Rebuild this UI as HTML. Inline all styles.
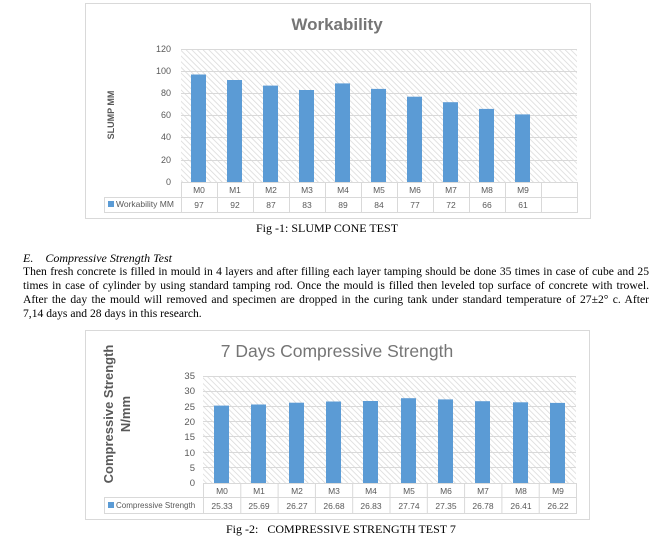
<!DOCTYPE html>
<html><head><meta charset="utf-8"><style>
body{margin:0;width:653px;height:546px;background:#fff;position:relative;overflow:hidden;font-family:"Liberation Serif",serif;}
.t{position:absolute;font-size:12px;color:#000;white-space:nowrap;}
.p{position:absolute;left:23px;width:626px;font-size:11.6px;line-height:14px;text-align:justify;text-align-last:justify;white-space:nowrap;word-spacing:-0.3px;}
svg{position:absolute;left:0;top:0;}
</style></head><body>
<svg width="653" height="546" font-family="Liberation Sans, sans-serif">
<defs>
<pattern id="h" width="4" height="4" patternUnits="userSpaceOnUse" patternTransform="rotate(-45)">
<rect width="4" height="4" fill="#fff"/><line x1="0" y1="0" x2="0" y2="4" stroke="#d6d6d6" stroke-width="1.4"/>
</pattern>
</defs>
<!-- Chart 1 -->
<rect x="85.5" y="3.5" width="505" height="215" fill="#fff" stroke="#d9d9d9"/>
<text x="337" y="30" text-anchor="middle" font-size="17" font-weight="bold" fill="#757575">Workability</text>
<rect x="181" y="49" width="396" height="133" fill="url(#h)"/>
<g stroke="#d9d9d9" stroke-width="1">
<line x1="181" x2="577" y1="49.5" y2="49.5"/><line x1="181" x2="577" y1="71.5" y2="71.5"/><line x1="181" x2="577" y1="93.5" y2="93.5"/><line x1="181" x2="577" y1="115.5" y2="115.5"/><line x1="181" x2="577" y1="137.5" y2="137.5"/><line x1="181" x2="577" y1="160.5" y2="160.5"/>
</g>
<g font-size="9" fill="#595959" text-anchor="end">
<text x="171" y="52">120</text><text x="171" y="74">100</text><text x="171" y="96">80</text><text x="171" y="118">60</text><text x="171" y="140">40</text><text x="171" y="163">20</text><text x="171" y="185">0</text>
</g>
<text transform="translate(114,115) rotate(-90)" text-anchor="middle" font-size="9" font-weight="bold" fill="#595959">SLUMP MM</text>
<g fill="#5b9bd5">
<rect x="191" y="74.5" width="15" height="107.5"/><rect x="227" y="80" width="15" height="102"/><rect x="263" y="85.6" width="15" height="96.4"/><rect x="299" y="90" width="15" height="92"/><rect x="335" y="83.4" width="15" height="98.6"/><rect x="371" y="88.9" width="15" height="93.1"/><rect x="407" y="96.7" width="15" height="85.3"/><rect x="443" y="102.2" width="15" height="79.8"/><rect x="479" y="108.9" width="15" height="73.1"/><rect x="515" y="114.4" width="15" height="67.6"/>
</g>
<g stroke="#d9d9d9" fill="none">
<rect x="181.5" y="182.5" width="396" height="30"/><rect x="104.5" y="197.5" width="77" height="15"/><line x1="181" x2="577" y1="197.5" y2="197.5"/>
<line x1="217.5" x2="217.5" y1="182" y2="212"/><line x1="253.5" x2="253.5" y1="182" y2="212"/><line x1="289.5" x2="289.5" y1="182" y2="212"/><line x1="325.5" x2="325.5" y1="182" y2="212"/><line x1="361.5" x2="361.5" y1="182" y2="212"/><line x1="397.5" x2="397.5" y1="182" y2="212"/><line x1="433.5" x2="433.5" y1="182" y2="212"/><line x1="469.5" x2="469.5" y1="182" y2="212"/><line x1="505.5" x2="505.5" y1="182" y2="212"/><line x1="541.5" x2="541.5" y1="182" y2="212"/>
</g>
<g font-size="8.5" fill="#595959" text-anchor="middle">
<text x="199" y="193">M0</text><text x="235" y="193">M1</text><text x="271" y="193">M2</text><text x="307" y="193">M3</text><text x="343" y="193">M4</text><text x="379" y="193">M5</text><text x="415" y="193">M6</text><text x="451" y="193">M7</text><text x="487" y="193">M8</text><text x="523" y="193">M9</text>
<text x="199" y="208">97</text><text x="235" y="208">92</text><text x="271" y="208">87</text><text x="307" y="208">83</text><text x="343" y="208">89</text><text x="379" y="208">84</text><text x="415" y="208">77</text><text x="451" y="208">72</text><text x="487" y="208">66</text><text x="523" y="208">61</text>
</g>
<rect x="108" y="201" width="6" height="6" fill="#5b9bd5"/>
<text x="116" y="207" font-size="8.5" fill="#595959">Workability MM</text>

<!-- Chart 2 -->
<rect x="85.5" y="330.5" width="504" height="189" fill="#fff" stroke="#d9d9d9"/>
<text x="337" y="357" text-anchor="middle" font-size="17.5" fill="#757575">7 Days Compressive Strength</text>
<rect x="203" y="376" width="373" height="107" fill="url(#h)"/>
<g stroke="#d9d9d9">
<line x1="203" x2="576" y1="376.5" y2="376.5"/><line x1="203" x2="576" y1="391.5" y2="391.5"/><line x1="203" x2="576" y1="406.5" y2="406.5"/><line x1="203" x2="576" y1="421.5" y2="421.5"/><line x1="203" x2="576" y1="436.5" y2="436.5"/><line x1="203" x2="576" y1="452.5" y2="452.5"/><line x1="203" x2="576" y1="467.5" y2="467.5"/>
</g>
<g font-size="9.5" fill="#595959" text-anchor="end">
<text x="195" y="379">35</text><text x="195" y="394">30</text><text x="195" y="410">25</text><text x="195" y="425">20</text><text x="195" y="440">15</text><text x="195" y="456">10</text><text x="195" y="471">5</text><text x="195" y="486">0</text>
</g>
<text transform="translate(113,414) rotate(-90)" text-anchor="middle" font-size="13" font-weight="bold" fill="#595959">Compressive Strength</text>
<text transform="translate(130,414) rotate(-90)" text-anchor="middle" font-size="13" font-weight="bold" fill="#595959">N/mm</text>
<g fill="#5b9bd5">
<rect x="214" y="405.6" width="15" height="77.4"/><rect x="251" y="404.5" width="15" height="78.5"/><rect x="289" y="402.7" width="15" height="80.3"/><rect x="326" y="401.5" width="15" height="81.5"/><rect x="363" y="401" width="15" height="82"/><rect x="401" y="398.2" width="15" height="84.8"/><rect x="438" y="399.4" width="15" height="83.6"/><rect x="475" y="401.2" width="15" height="81.8"/><rect x="513" y="402.3" width="15" height="80.7"/><rect x="550" y="402.9" width="15" height="80.1"/>
</g>
<g stroke="#d9d9d9" fill="none">
<rect x="203.5" y="483.5" width="373" height="30"/><rect x="104.5" y="497.5" width="99" height="16"/><line x1="203" x2="576" y1="497.5" y2="497.5"/>
<line x1="240.8" x2="240.8" y1="483" y2="513"/><line x1="278.1" x2="278.1" y1="483" y2="513"/><line x1="315.4" x2="315.4" y1="483" y2="513"/><line x1="352.7" x2="352.7" y1="483" y2="513"/><line x1="390" x2="390" y1="483" y2="513"/><line x1="427.3" x2="427.3" y1="483" y2="513"/><line x1="464.6" x2="464.6" y1="483" y2="513"/><line x1="501.9" x2="501.9" y1="483" y2="513"/><line x1="539.2" x2="539.2" y1="483" y2="513"/>
</g>
<g font-size="8.5" fill="#595959" text-anchor="middle">
<text x="222" y="494">M0</text><text x="259" y="494">M1</text><text x="297" y="494">M2</text><text x="334" y="494">M3</text><text x="371" y="494">M4</text><text x="409" y="494">M5</text><text x="446" y="494">M6</text><text x="483" y="494">M7</text><text x="521" y="494">M8</text><text x="558" y="494">M9</text>
<text x="222" y="509">25.33</text><text x="259" y="509">25.69</text><text x="297" y="509">26.27</text><text x="334" y="509">26.68</text><text x="371" y="509">26.83</text><text x="409" y="509">27.74</text><text x="446" y="509">27.35</text><text x="483" y="509">26.78</text><text x="521" y="509">26.41</text><text x="558" y="509">26.22</text>
</g>
<rect x="108" y="502" width="6" height="6" fill="#5b9bd5"/>
<text x="116" y="508" font-size="8" fill="#595959">Compressive Strength</text>
</svg>
<div class="t" style="left:256px;top:221px;">Fig -1: SLUMP CONE TEST</div>
<div class="t" style="left:23px;top:251px;font-style:italic;">E.&nbsp;&nbsp;&nbsp;&nbsp;Compressive Strength Test</div>
<div class="p" style="top:265px;">Then fresh concrete is filled in mould in 4 layers and after filling each layer tamping should be done 35 times in case of cube and 25</div>
<div class="p" style="top:279px;">times in case of cylinder by using standard tamping rod. Once the mould is filled then leveled top surface of concrete with trowel.</div>
<div class="p" style="top:293px;">After the day the mould will removed and specimen are dropped in the curing tank under standard temperature of 27±2° c. After</div>
<div class="t" style="left:23px;top:307px;font-size:11.6px;">7,14 days and 28 days in this research.</div>
<div class="t" style="left:226px;top:522px;">Fig -2:&nbsp;&nbsp; COMPRESSIVE STRENGTH TEST 7</div>
</body></html>
